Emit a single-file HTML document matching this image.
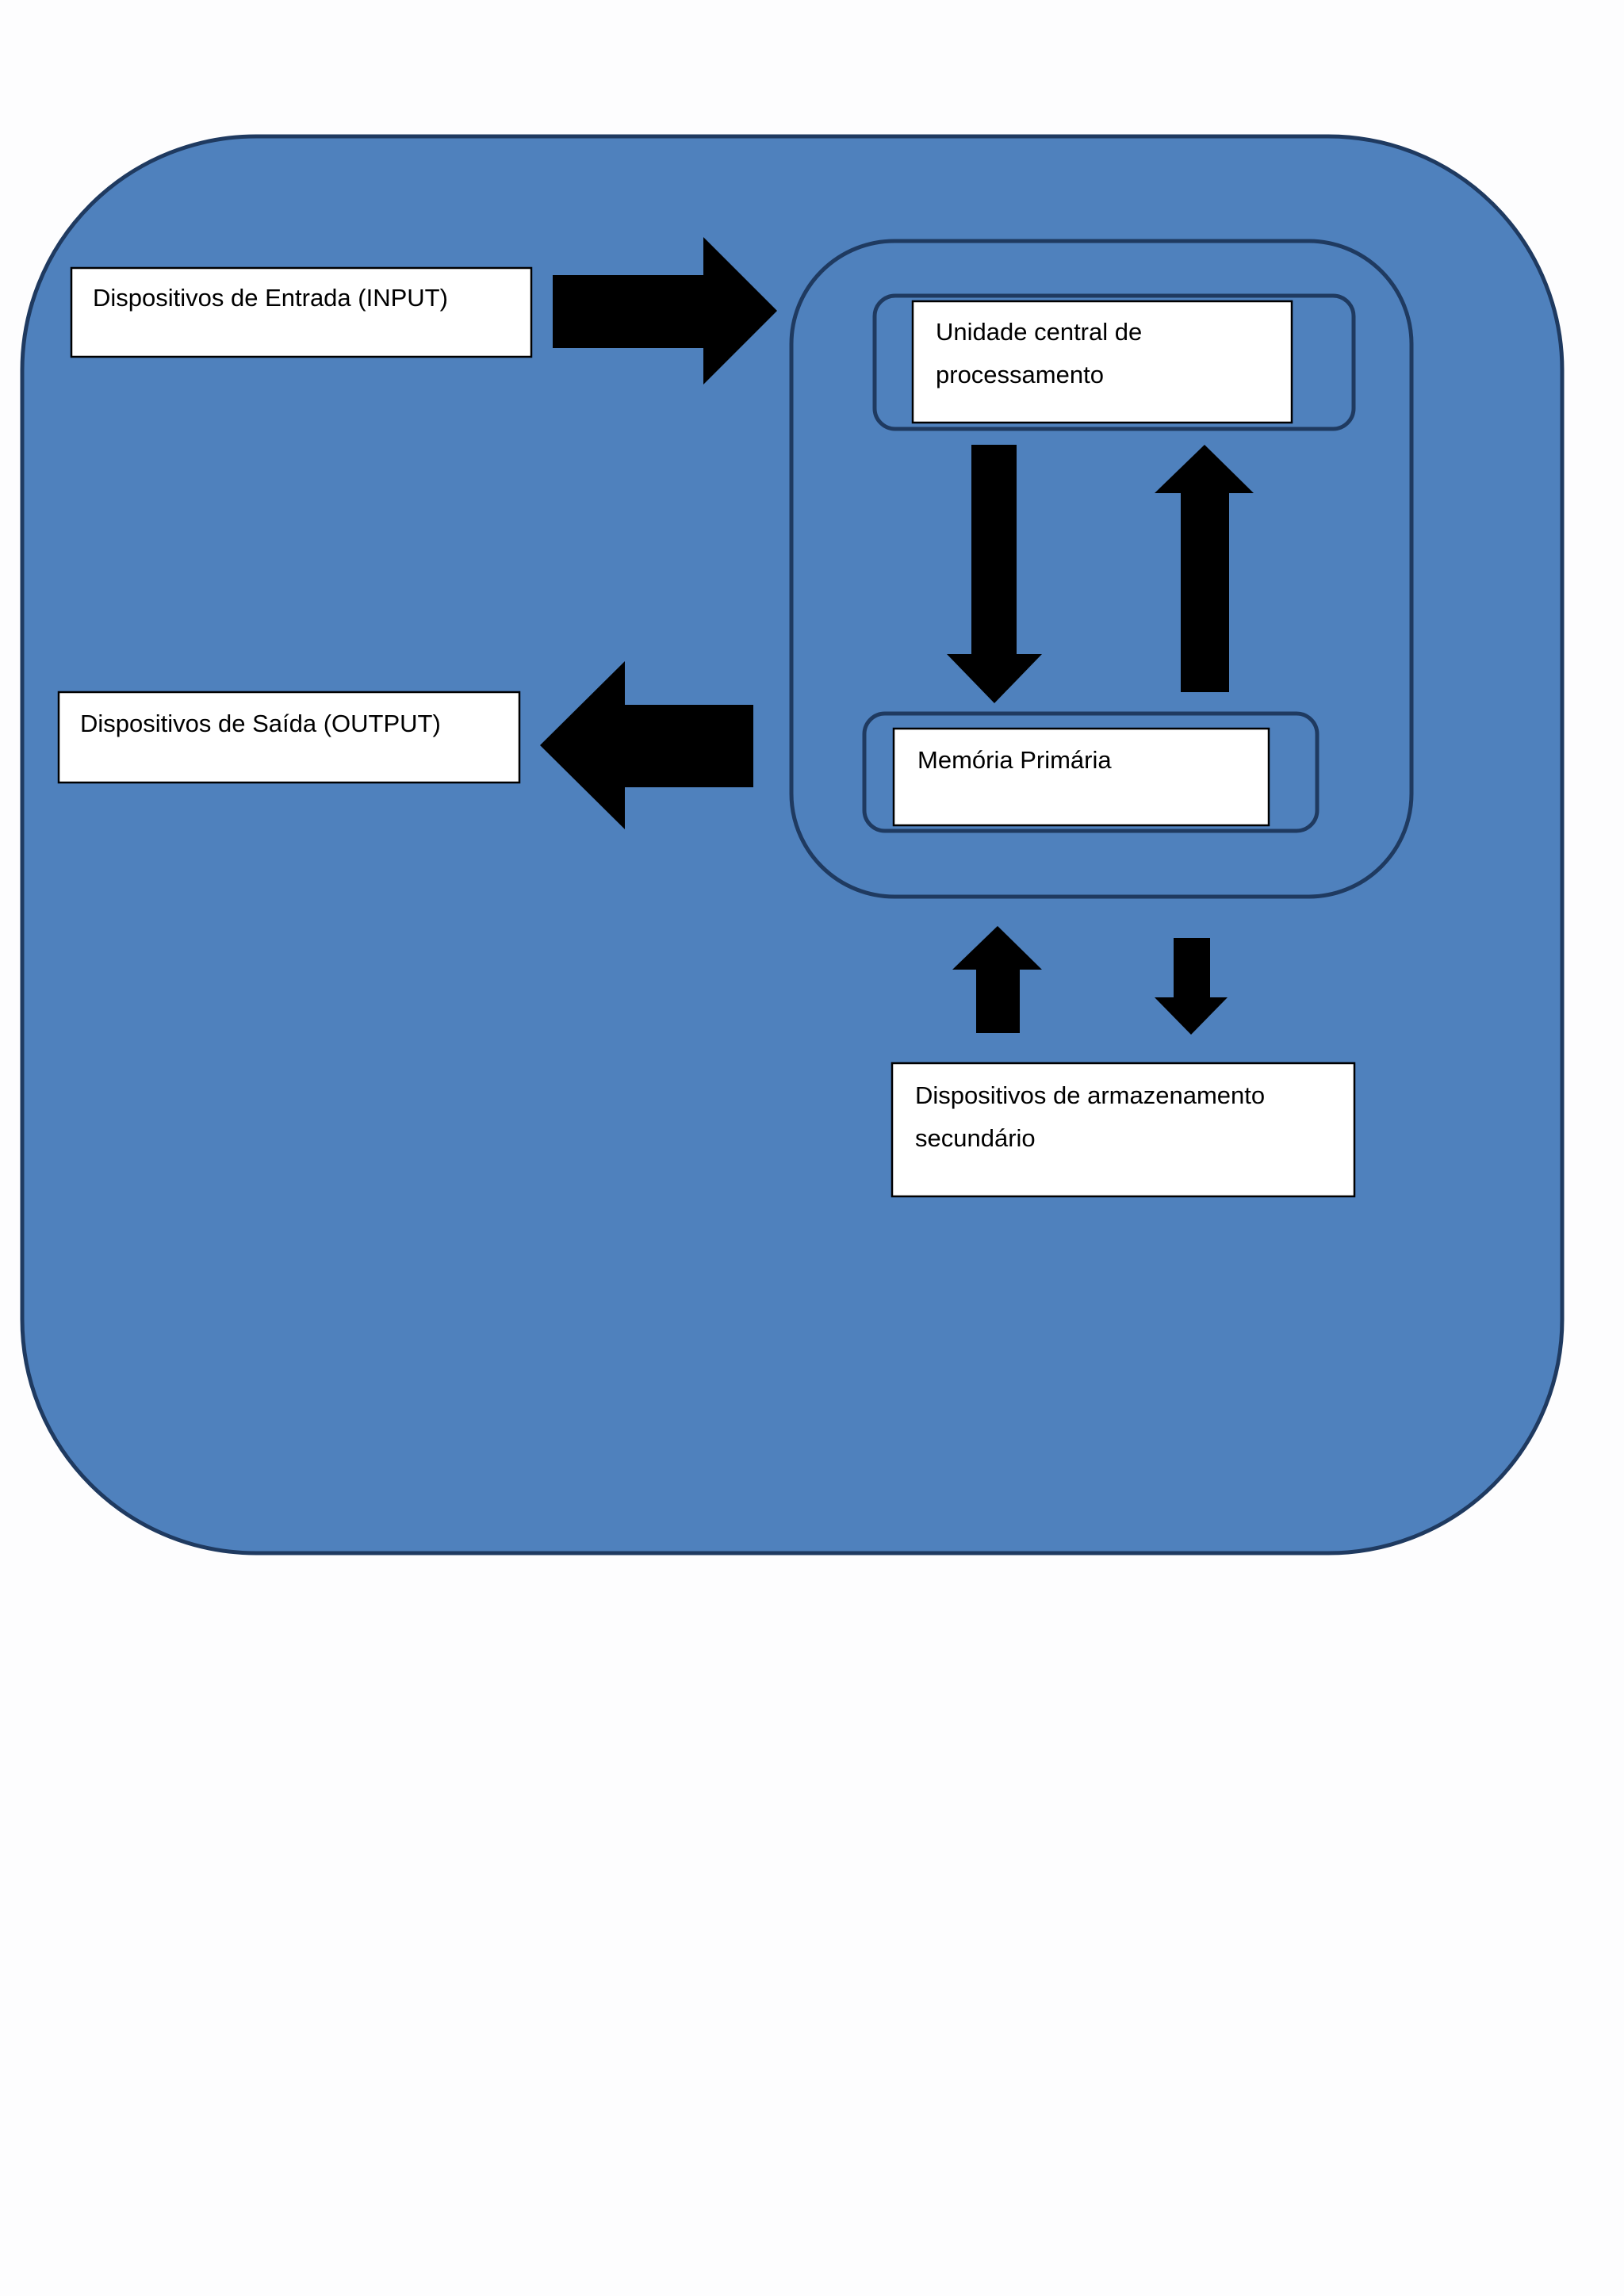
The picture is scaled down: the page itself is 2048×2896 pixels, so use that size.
<!DOCTYPE html>
<html><head><meta charset="utf-8"><style>
html,body{margin:0;padding:0;background:#fdfdfe;}
svg{display:block}
text{font-family:"Liberation Sans",sans-serif;font-size:31px;fill:#000}
</style></head><body>
<svg width="2048" height="2896" viewBox="0 0 2048 2896" xmlns="http://www.w3.org/2000/svg">
<rect x="0" y="0" width="2048" height="2896" fill="#fdfdfe"/>
<rect x="28" y="172" width="1942" height="1787" rx="295" ry="295" fill="#4f81bd" stroke="#1f3a60" stroke-width="5"/>
<rect x="998" y="304" width="782" height="827" rx="130" ry="130" fill="none" stroke="#1f3a60" stroke-width="5"/>
<rect x="1103" y="373" width="604" height="168" rx="26" fill="none" stroke="#1f3a60" stroke-width="5"/>
<rect x="1090" y="900" width="571" height="148" rx="26" fill="none" stroke="#1f3a60" stroke-width="5"/>
<!-- boxes -->
<rect x="90" y="338" width="580" height="112" fill="#fff" stroke="#000" stroke-width="2.5"/>
<text x="117" y="386">Dispositivos de Entrada (INPUT)</text>
<rect x="74" y="873" width="581" height="114" fill="#fff" stroke="#000" stroke-width="2.5"/>
<text x="101" y="923">Dispositivos de Saída (OUTPUT)</text>
<rect x="1151" y="380" width="478" height="153" fill="#fff" stroke="#000" stroke-width="2.5"/>
<text x="1180" y="429">Unidade central de</text>
<text x="1180" y="483">processamento</text>
<rect x="1127" y="919" width="473" height="122" fill="#fff" stroke="#000" stroke-width="2.5"/>
<text x="1157" y="969">Memória Primária</text>
<rect x="1125" y="1341" width="583" height="168" fill="#fff" stroke="#000" stroke-width="2.5"/>
<text x="1154" y="1392">Dispositivos de armazenamento</text>
<text x="1154" y="1446">secundário</text>
<!-- arrows -->
<polygon points="697,347 887,347 887,299 980,392 887,485 887,439 697,439" fill="#000"/>
<polygon points="950,889 788,889 788,834 681,940 788,1046 788,993 950,993" fill="#000"/>
<polygon points="1225,561 1282,561 1282,825 1314,825 1254,887 1194,825 1225,825" fill="#000"/>
<polygon points="1489,873 1550,873 1550,622 1581,622 1519,561 1456,622 1489,622" fill="#000"/>
<polygon points="1231,1303 1286,1303 1286,1223 1314,1223 1258,1168 1201,1223 1231,1223" fill="#000"/>
<polygon points="1480,1183 1526,1183 1526,1258 1548,1258 1502,1305 1456,1258 1480,1258" fill="#000"/>
</svg>
</body></html>
